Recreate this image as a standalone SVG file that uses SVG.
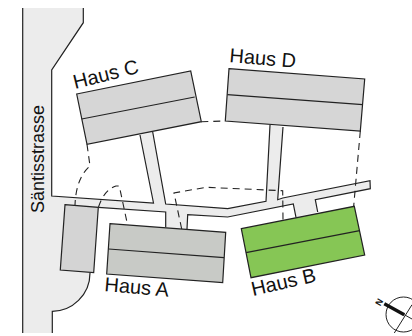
<svg xmlns="http://www.w3.org/2000/svg" width="412" height="336" viewBox="0 0 412 336">
<style>
text{font-family:"Liberation Sans",Arial,sans-serif;font-size:20px;fill:#111}
.e{stroke:#222;stroke-width:1.2;fill:none}
.h{stroke:#222;stroke-width:1.2}
.d{stroke:#222;stroke-width:1.1;fill:none;stroke-dasharray:7 5}
</style>
<rect width="412" height="336" fill="#fff"/>
<g id="ground">
<path fill="#ececec" d="M22.7,8H83.3V22.7L51.7,70V196L153.5,203L140,135L152.7,132L165.7,204L227.7,208.7L266,201.3L270,125L283,127L277.7,199.7L282.7,198L370,180.7L370.3,188.7L315.3,199.7L317.7,212L296,217.3L293.3,204L227.7,217L187.7,214.7L187,229L165.7,227.3V212L98.3,207.3L90,273C90,295 72,311.3 52.3,311.3V333H22.7Z"/>
<path class="e" d="M22.7,333V8M83.3,8V22.7L51.7,70V196L153.5,203L140,135M152.7,132L165.7,204L227.7,208.7L266,201.3L270,125M283,127L277.7,199.7L282.7,198L370,180.7L370.3,188.7L315.3,199.7L317.7,212M296,217.3L293.3,204L227.7,217L187.7,214.7L187,229M165.7,227.3V212L98.3,207.3M90,273C90,295 72,311.3 52.3,311.3V333"/>
</g>
<g id="connectors">
<path class="d" d="M87,144.3L90,166Q76,178 75,205"/>
<path class="d" d="M98.5,207Q104,190 116,186L119.3,186L127.3,223.7"/>
<path class="d" d="M181.7,229L174,193L206,187.3L282.7,190.7L283,219.7"/>
<path class="d" d="M360.3,131L353.7,206"/>
<path class="d" d="M201.3,121.7L225.3,121"/>
</g>
<g id="haus-s"><path class="h" fill="#d4d4d4" d="M65,204.7L98.3,207.3L93.7,272.7L60.3,270Z"/></g>
<g id="haus-c"><path class="h" fill="#d6d6d6" d="M76.7,94L190.7,71L201.3,121.7L87,144.3Z"/><path class="h" d="M81.7,119L194.7,97"/><text transform="translate(75,89) rotate(-14)">Haus C</text></g>
<g id="haus-d"><path class="h" fill="#d6d6d6" d="M229,68.7L364.7,79L360.3,131L225.3,121Z"/><path class="h" d="M227.3,94.7L362.7,104.7"/><text transform="translate(229,62) rotate(5)">Haus D</text></g>
<g id="haus-a"><path class="h" fill="#c8cac6" d="M110,223.7L225.7,232.3L222.7,282.7L106.7,274Z"/><path class="h" d="M108.7,249L224,257.7"/><text transform="translate(104,291) rotate(5)">Haus A</text></g>
<g id="haus-b"><path class="h" fill="#86c655" d="M241.3,228.7L354.3,206.3L364.7,255L251,277.7Z"/><path class="h" d="M246,252.7L359.7,230.7"/><text transform="translate(253,296) rotate(-13)">Haus B</text></g>
<text transform="translate(44,213) rotate(-90)" style="font-size:18px">Säntisstrasse</text>
<g id="compass">
<circle cx="403.5" cy="314.5" r="17.5" fill="none" stroke="#222"/>
<path stroke="#111" stroke-width="3.4" d="M384.3,303.7L404.3,314.7"/>
<path stroke="#222" d="M404.3,314.7L412,319M394.3,333L412,304.7"/>
<text transform="translate(380.2,306.4) rotate(-60)" style="font-size:9px;font-weight:bold">N</text>
</g>
</svg>
